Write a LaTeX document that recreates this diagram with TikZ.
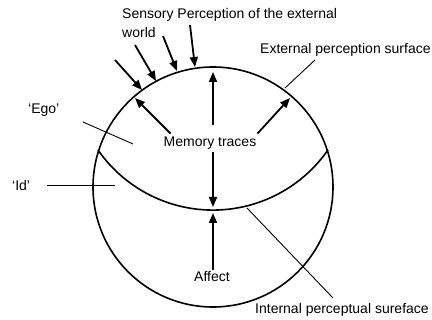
\documentclass[tikz,border=0pt]{standalone}
\usepackage{fontspec}
\setmainfont{Liberation Sans}
\usetikzlibrary{arrows.meta}

\begin{document}
\begin{tikzpicture}[x=1pt, y=-1pt, font=\fontsize{14}{17}\selectfont,
	lbl/.style={anchor=west, inner sep=0pt},
	arr/.style={line width=1.8pt, -{Triangle[length=10pt, width=8pt]}},
	lead/.style={line width=0.9pt}]
	\useasboundingbox (0,0) rectangle (432,320);
	
	% the two surfaces
	\coordinate (centre) at (213,187);
	\coordinate (arcstart) at (98,150);
	\draw[line width=1.6pt] (centre) circle (120pt);
	\draw[line width=1.6pt] (arcstart) arc[start angle=214.8, end angle=325.2, radius=140pt];
	
	% labels
	\node[lbl] (sensory) at (122,15) {Sensory Perception of the external};
	\node[lbl] (world) at (122,33) {world};
	\node[lbl] (external) at (260,50) {External perception surface};
	\node[lbl] (ego) at (28,110) {`Ego'};
	\node[inner sep=1pt] (memory) at (210,143) {Memory traces};
	\node[lbl] (id) at (12,185) {`Id'};
	\node[inner sep=1pt] (affect) at (212,277) {Affect};
	\node[lbl] (internal) at (255,310) {Internal perceptual sureface};
	
	% sensory input
	\coordinate (s1) at (190,25);  \coordinate (t1) at (195,67);
	\coordinate (s2) at (163,36);  \coordinate (t2) at (177,71);
	\coordinate (s3) at (135,45);  \coordinate (t3) at (156,81);
	\coordinate (s4) at (115,60);  \coordinate (t4) at (142,90);
	\draw[arr] (s1) -- (t1);
	\draw[arr] (s2) -- (t2);
	\draw[arr] (s3) -- (t3);
	\draw[arr] (s4) -- (t4);
	
	% memory traces
	\coordinate (mleft) at (135,98);
	\coordinate (mtop) at (213,72);
	\coordinate (mright) at (290,98);
	\coordinate (mdown) at (213,207);
	\draw[arr] (memory.north west) ++(8,-2) -- (mleft);
	\draw[arr] (memory.north) ++(3,-11) -- (mtop);
	\draw[arr] (memory.north east) ++(0,-2) -- (mright);
	\draw[arr] (memory.south) ++(3,2) -- (mdown);
	
	% affect
	\coordinate (atop) at (213,213);
	\draw[arr] (affect.north) ++(1,-1) -- (atop);
	
	% leader lines
	\coordinate (ego1) at (83,122);   \coordinate (ego2) at (133,144);
	\coordinate (ext1) at (315,60);   \coordinate (ext2) at (285,88);
	\coordinate (id1) at (47,185);    \coordinate (id2) at (115,185);
	\coordinate (int1) at (333,298);  \coordinate (int2) at (247,208);
	\draw[lead] (ego1) -- (ego2);
	\draw[lead] (ext1) -- (ext2);
	\draw[lead] (id1) -- (id2);
	\draw[lead] (int1) -- (int2);
\end{tikzpicture}
\end{document}
